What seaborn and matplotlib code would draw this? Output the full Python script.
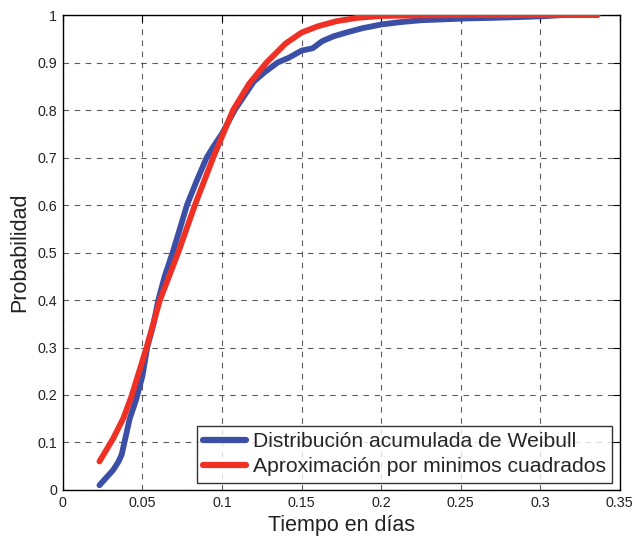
import numpy as np
import pandas as pd
import matplotlib
matplotlib.use("Agg")
import matplotlib.pyplot as plt
import seaborn as sns

# Data
weibull_x = [0.023, 0.027, 0.0316, 0.035, 0.037, 0.040, 0.042, 0.046, 0.050, 0.053,
             0.057, 0.060, 0.064, 0.069, 0.074, 0.078, 0.084, 0.0904, 0.095, 0.100,
             0.108, 0.114, 0.120, 0.127, 0.135, 0.142, 0.150, 0.157, 0.163, 0.170,
             0.178, 0.188, 0.200, 0.212, 0.225, 0.240, 0.255, 0.270, 0.290, 0.305,
             0.315, 0.336]
weibull_y = [0.010, 0.025, 0.042, 0.060, 0.075, 0.120, 0.150, 0.190, 0.240, 0.300,
             0.350, 0.400, 0.450, 0.500, 0.555, 0.600, 0.650, 0.700, 0.725, 0.750,
             0.800, 0.830, 0.860, 0.880, 0.900, 0.910, 0.925, 0.930, 0.945, 0.955,
             0.963, 0.972, 0.980, 0.985, 0.989, 0.991, 0.993, 0.994, 0.996, 0.998,
             1.000, 1.000]

ajuste_x = [0.023, 0.0317, 0.038, 0.043, 0.0526, 0.061, 0.0725, 0.083, 0.0945, 0.107,
            0.117, 0.128, 0.140, 0.150, 0.160, 0.172, 0.185, 0.200, 0.220, 0.250,
            0.290, 0.336]
ajuste_y = [0.060, 0.109, 0.151, 0.196, 0.300, 0.400, 0.500, 0.600, 0.700, 0.800,
            0.855, 0.900, 0.940, 0.963, 0.976, 0.987, 0.994, 0.998, 0.999, 1.000,
            1.000, 1.000]

series_names = ["Distribución acumulada de Weibull", "Aproximación por minimos cuadrados"]
x_ticks = [0, 0.05, 0.1, 0.15, 0.2, 0.25, 0.3, 0.35]
x_tick_labels = ["0", "0.05", "0.1", "0.15", "0.2", "0.25", "0.3", "0.35"]
y_ticks = [0, 0.1, 0.2, 0.3, 0.4, 0.5, 0.6, 0.7, 0.8, 0.9, 1]
y_tick_labels = ["0", "0.1", "0.2", "0.3", "0.4", "0.5", "0.6", "0.7", "0.8", "0.9", "1"]

sns.set_theme(style="white")
plt.rcParams['font.family'] = ['Liberation Sans', 'DejaVu Sans']

df = pd.concat([
    pd.DataFrame({"x": weibull_x, "y": weibull_y, "serie": series_names[0]}),
    pd.DataFrame({"x": ajuste_x, "y": ajuste_y, "serie": series_names[1]}),
], ignore_index=True)

fig = plt.figure(figsize=(6.35, 5.4), dpi=100)
ax = fig.add_axes([0.099, 0.0926, 0.877, 0.8796])

palette = {series_names[0]: "#3b4fa6", series_names[1]: "#ee3124"}
sns.lineplot(data=df, x="x", y="y", hue="serie", palette=palette, sort=False,
             estimator=None, linewidth=4.2, ax=ax, zorder=3)

ax.set_xlim(0, 0.35)
ax.set_ylim(0, 1)
ax.set_xticks(x_ticks)
ax.set_xticklabels(x_tick_labels)
ax.set_yticks(y_ticks)
ax.set_yticklabels(y_tick_labels)
ax.tick_params(direction="in", length=5, width=0.8, top=True, right=True,
               labelsize=10.3, colors="black", pad=4)
ax.tick_params(axis="x", labelcolor="#222222")
ax.tick_params(axis="y", labelcolor="#222222")
ax.grid(True, color="#333333", linestyle=(0, (5, 5)), linewidth=0.8, alpha=0.8)
for s in ax.spines.values():
    s.set_color("black")
    s.set_linewidth(1.0)
    s.set_visible(True)

ax.set_xlabel("Tiempo en días", fontsize=15.5, color="#222222", labelpad=4)
ax.set_ylabel("Probabilidad", fontsize=15.5, color="#222222", labelpad=5)

leg = ax.legend(loc="lower right", fontsize=15.2, frameon=True, fancybox=False,
                edgecolor="black", handlelength=2.0, borderpad=0.3, labelspacing=0.3,
                handletextpad=0.35, borderaxespad=0.35)
leg.get_frame().set_linewidth(1.0)
for line in leg.get_lines():
    line.set_linewidth(4.5)

fig.savefig("out.png", dpi=100)
